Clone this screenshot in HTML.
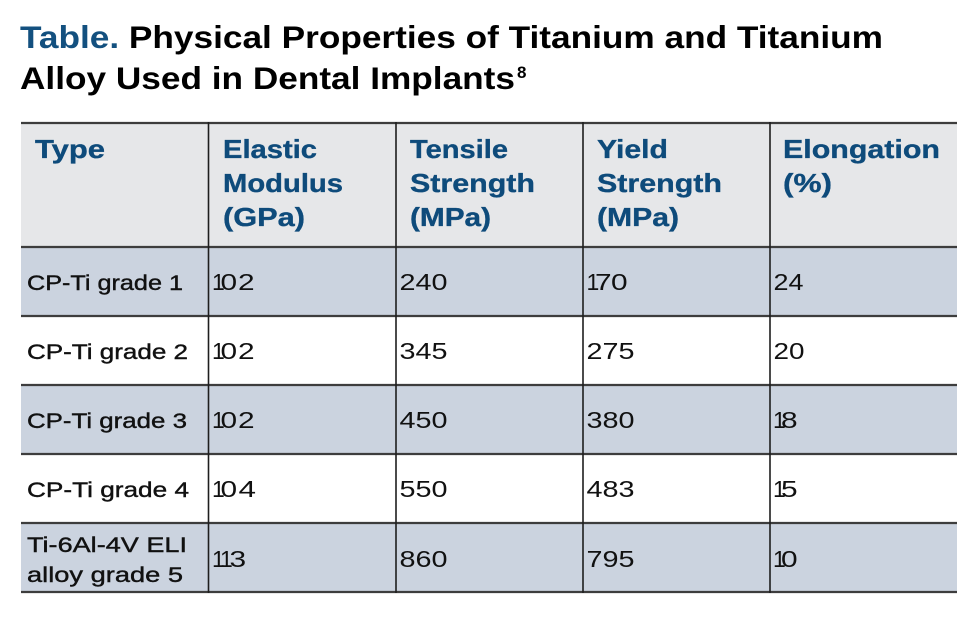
<!DOCTYPE html>
<html>
<head>
<meta charset="utf-8">
<style>
  html, body { margin:0; padding:0; background:#ffffff; }
  svg { display:block; }
  text { font-family: "Liberation Sans", sans-serif; }
  .hd { font-weight:bold; font-size:26px; fill:#0e4b7b; stroke:#0e4b7b; stroke-width:0.35; }
  .lb { font-size:21.5px; fill:#111; stroke:#111; stroke-width:0.4; }
  .nm { font-size:23px; fill:#111; }
</style>
</head>
<body>
<svg width="971" height="634" viewBox="0 0 971 634" xmlns="http://www.w3.org/2000/svg">
  <rect x="0" y="0" width="971" height="634" fill="#ffffff"/>

  <!-- Title -->
  <text x="20" y="48" font-size="31.5" font-weight="bold" textLength="863" lengthAdjust="spacingAndGlyphs"><tspan fill="#13507f">Table.</tspan><tspan fill="#000"> Physical Properties of Titanium and Titanium</tspan></text>
  <text x="20" y="89" font-size="31.5" font-weight="bold" fill="#000" textLength="495" lengthAdjust="spacingAndGlyphs">Alloy Used in Dental Implants</text>
  <text x="517" y="78" font-size="17" font-weight="bold" fill="#000">8</text>

  <!-- Backgrounds -->
  <rect x="21" y="123" width="936" height="124" fill="#e6e7e9"/>
  <rect x="21" y="247" width="936" height="69" fill="#cbd3df"/>
  <rect x="21" y="385" width="936" height="69" fill="#cbd3df"/>
  <rect x="21" y="523" width="936" height="69" fill="#cbd3df"/>

  <!-- Horizontal lines -->
  <g stroke="#3d3d3d" stroke-width="2.2">
    <line x1="21" y1="123" x2="957" y2="123"/>
    <line x1="21" y1="247" x2="957" y2="247"/>
    <line x1="21" y1="316" x2="957" y2="316"/>
    <line x1="21" y1="385" x2="957" y2="385"/>
    <line x1="21" y1="454" x2="957" y2="454"/>
    <line x1="21" y1="523" x2="957" y2="523"/>
    <line x1="21" y1="592" x2="957" y2="592"/>
  </g>
  <!-- Vertical lines -->
  <g stroke="#1e1e1e" stroke-width="1.6">
    <line x1="208.5" y1="122" x2="208.5" y2="593"/>
    <line x1="396" y1="122" x2="396" y2="593"/>
    <line x1="583" y1="122" x2="583" y2="593"/>
    <line x1="770" y1="122" x2="770" y2="593"/>
  </g>

  <!-- Header -->
  <text class="hd" x="35" y="158" textLength="70" lengthAdjust="spacingAndGlyphs">Type</text>

  <text class="hd" x="223" y="158" textLength="94" lengthAdjust="spacingAndGlyphs">Elastic</text>
  <text class="hd" x="223" y="192" textLength="120" lengthAdjust="spacingAndGlyphs">Modulus</text>
  <text class="hd" x="223" y="226" textLength="82" lengthAdjust="spacingAndGlyphs">(GPa)</text>

  <text class="hd" x="410" y="158" textLength="98" lengthAdjust="spacingAndGlyphs">Tensile</text>
  <text class="hd" x="410" y="192" textLength="125" lengthAdjust="spacingAndGlyphs">Strength</text>
  <text class="hd" x="410" y="226" textLength="81" lengthAdjust="spacingAndGlyphs">(MPa)</text>

  <text class="hd" x="597" y="158" textLength="71" lengthAdjust="spacingAndGlyphs">Yield</text>
  <text class="hd" x="597" y="192" textLength="125" lengthAdjust="spacingAndGlyphs">Strength</text>
  <text class="hd" x="597" y="226" textLength="82" lengthAdjust="spacingAndGlyphs">(MPa)</text>

  <text class="hd" x="783" y="158" textLength="157" lengthAdjust="spacingAndGlyphs">Elongation</text>
  <text class="hd" x="783" y="192" textLength="49" lengthAdjust="spacingAndGlyphs">(%)</text>

  <!-- Row 1 -->
  <text class="lb" x="27" y="290" textLength="156" lengthAdjust="spacingAndGlyphs">CP-Ti grade 1</text>
  <text class="nm" x="212" y="290">1</text><text class="nm" x="220.5" y="290" textLength="16.6" lengthAdjust="spacingAndGlyphs">0</text><text class="nm" x="238" y="290" textLength="16.6" lengthAdjust="spacingAndGlyphs">2</text>
  <text class="nm" x="399.5" y="290" textLength="48" lengthAdjust="spacingAndGlyphs">240</text>
  <text class="nm" x="586.5" y="290">1</text><text class="nm" x="595" y="290" textLength="16.6" lengthAdjust="spacingAndGlyphs">7</text><text class="nm" x="611" y="290" textLength="16.6" lengthAdjust="spacingAndGlyphs">0</text>
  <text class="nm" x="773.5" y="290" textLength="30" lengthAdjust="spacingAndGlyphs">24</text>

  <!-- Row 2 -->
  <text class="lb" x="27" y="359" textLength="161" lengthAdjust="spacingAndGlyphs">CP-Ti grade 2</text>
  <text class="nm" x="212" y="359">1</text><text class="nm" x="220.5" y="359" textLength="16.6" lengthAdjust="spacingAndGlyphs">0</text><text class="nm" x="238" y="359" textLength="16.6" lengthAdjust="spacingAndGlyphs">2</text>
  <text class="nm" x="399.5" y="359" textLength="48" lengthAdjust="spacingAndGlyphs">345</text>
  <text class="nm" x="586.5" y="359" textLength="48" lengthAdjust="spacingAndGlyphs">275</text>
  <text class="nm" x="773.5" y="359" textLength="31" lengthAdjust="spacingAndGlyphs">20</text>

  <!-- Row 3 -->
  <text class="lb" x="27" y="428" textLength="160" lengthAdjust="spacingAndGlyphs">CP-Ti grade 3</text>
  <text class="nm" x="212" y="428">1</text><text class="nm" x="220.5" y="428" textLength="16.6" lengthAdjust="spacingAndGlyphs">0</text><text class="nm" x="238" y="428" textLength="16.6" lengthAdjust="spacingAndGlyphs">2</text>
  <text class="nm" x="399.5" y="428" textLength="48" lengthAdjust="spacingAndGlyphs">450</text>
  <text class="nm" x="586.5" y="428" textLength="48" lengthAdjust="spacingAndGlyphs">380</text>
  <text class="nm" x="773" y="428">1</text><text class="nm" x="781" y="428" textLength="16.6" lengthAdjust="spacingAndGlyphs">8</text>

  <!-- Row 4 -->
  <text class="lb" x="27" y="497" textLength="162" lengthAdjust="spacingAndGlyphs">CP-Ti grade 4</text>
  <text class="nm" x="212" y="497">1</text><text class="nm" x="220.5" y="497" textLength="16.6" lengthAdjust="spacingAndGlyphs">0</text><text class="nm" x="238.5" y="497" textLength="17.5" lengthAdjust="spacingAndGlyphs">4</text>
  <text class="nm" x="399.5" y="497" textLength="48" lengthAdjust="spacingAndGlyphs">550</text>
  <text class="nm" x="586.5" y="497" textLength="48" lengthAdjust="spacingAndGlyphs">483</text>
  <text class="nm" x="773" y="497">1</text><text class="nm" x="781" y="497" textLength="16.6" lengthAdjust="spacingAndGlyphs">5</text>

  <!-- Row 5 -->
  <text class="lb" x="27" y="552" textLength="160" lengthAdjust="spacingAndGlyphs">Ti-6Al-4V ELI</text>
  <text class="lb" x="27" y="582" textLength="156" lengthAdjust="spacingAndGlyphs">alloy grade 5</text>
  <text class="nm" x="212" y="567">1</text><text class="nm" x="220" y="567">1</text><text class="nm" x="229.5" y="567" textLength="16.6" lengthAdjust="spacingAndGlyphs">3</text>
  <text class="nm" x="399.5" y="567" textLength="48" lengthAdjust="spacingAndGlyphs">860</text>
  <text class="nm" x="586.5" y="567" textLength="48" lengthAdjust="spacingAndGlyphs">795</text>
  <text class="nm" x="773" y="567">1</text><text class="nm" x="781" y="567" textLength="16.6" lengthAdjust="spacingAndGlyphs">0</text>
</svg>
</body>
</html>
